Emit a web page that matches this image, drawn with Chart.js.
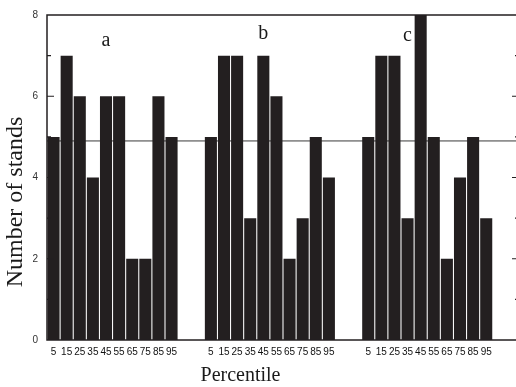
<!DOCTYPE html>
<html>
<head>
<meta charset="utf-8">
<script src="https://cdn.jsdelivr.net/npm/chart.js"></script>
<style>
    html, body { margin: 0; padding: 0; background: #ffffff; overflow: hidden; }
    .chart_box { position: absolute; left: 0; top: 0; width: 524px; height: 387px; }
</style>
</head>
<body>
<div class="chart_box">
    <canvas id="stands_chart" width="524" height="387"></canvas>
</div>
<script>
//percentile classes and stand counts for the three panels
const percentiles = ['5', '15', '25', '35', '45', '55', '65', '75', '85', '95'];
const standsA = [5, 7, 6, 4, 6, 6, 2, 2, 6, 5];
const standsB = [5, 7, 7, 3, 7, 6, 2, 3, 5, 4];
const standsC = [5, 7, 7, 3, 8, 5, 2, 4, 5, 3];
const panelLetters = ['a', 'b', 'c'];
const yTickLabels = [0, 2, 4, 6, 8];
const referenceLevel = 4.9;

//where each panel letter sits (category index, y value)
const letterSpots = [
    { index: 4, value: 7.24 },
    { index: 16, value: 7.41 },
    { index: 27, value: 7.37 }
];

//build the category axis: each panel followed by two empty slots
const gapSlots = 2;
const labels = [];
const counts = [];
[standsA, standsB, standsC].forEach(panel => {
    percentiles.forEach((p, i) => {
        labels.push(p);
        counts.push(panel[i]);
    });
    for (let g = 0; g < gapSlots; g++) {
        labels.push('');
        counts.push(null);
    }
});

const ink = '#231f20';

//reference line behind the bars
const referenceLine = {
    id: 'referenceLine',
    beforeDatasetsDraw(chart) {
        const { ctx, chartArea, scales } = chart;
        const y = scales.y.getPixelForValue(referenceLevel);
        ctx.save();
        ctx.strokeStyle = '#3a3a3a';
        ctx.lineWidth = 1;
        ctx.beginPath();
        ctx.moveTo(chartArea.left, y);
        ctx.lineTo(chartArea.right, y);
        ctx.stroke();
        ctx.restore();
    }
};

//box frame, inward ticks, panel letters and axis titles
const frameAndText = {
    id: 'frameAndText',
    afterDraw(chart) {
        const { ctx, chartArea, scales } = chart;
        const { left, right, top, bottom } = chartArea;
        ctx.save();

        ctx.strokeStyle = ink;
        ctx.lineWidth = 1.5;
        ctx.strokeRect(left, top, right - left, bottom - top);

        ctx.lineWidth = 1.2;
        for (let v = 1; v < 8; v++) {
            const y = scales.y.getPixelForValue(v);
            const len = v % 2 === 0 ? 7 : 4;
            ctx.beginPath();
            ctx.moveTo(left, y);
            ctx.lineTo(left + len, y);
            ctx.moveTo(right, y);
            ctx.lineTo(right - len, y);
            ctx.stroke();
        }

        ctx.fillStyle = '#1a1a1a';
        ctx.font = '20px "Liberation Serif"';
        ctx.textAlign = 'center';
        ctx.textBaseline = 'alphabetic';
        letterSpots.forEach((spot, i) => {
            const x = scales.x.getPixelForValue(spot.index);
            const y = scales.y.getPixelForValue(spot.value);
            ctx.fillText(panelLetters[i], x, y);
        });

        ctx.fillText('Percentile', 240.5, 381);

        ctx.font = '24px "Liberation Serif"';
        ctx.translate(22, 202);
        ctx.rotate(-Math.PI / 2);
        ctx.fillText('Number of stands', 0, 0);

        ctx.restore();
    }
};

const standsChart = new Chart(document.getElementById('stands_chart'), {
    type: 'bar',
    data: {
        labels: labels,
        datasets: [{
            data: counts,
            backgroundColor: ink,
            borderWidth: 0,
            barPercentage: 0.92,
            categoryPercentage: 1
        }]
    },
    options: {
        responsive: false,
        animation: false,
        devicePixelRatio: 1,
        layout: {
            padding: { top: 12, right: 5, left: 0, bottom: 0 }
        },
        plugins: {
            legend: { display: false },
            tooltip: { enabled: false }
        },
        scales: {
            x: {
                grid: { display: false, drawTicks: false },
                border: { display: false },
                ticks: {
                    autoSkip: false,
                    maxRotation: 0,
                    minRotation: 0,
                    padding: 6,
                    color: '#111111',
                    font: { family: '"Liberation Sans"', size: 10 }
                },
                afterFit: (scale) => { scale.height = 47; }
            },
            y: {
                min: 0,
                max: 8,
                grid: { display: false, drawTicks: false },
                border: { display: false },
                ticks: {
                    stepSize: 1,
                    padding: 9,
                    color: '#333333',
                    font: { family: '"Liberation Sans"', size: 10 },
                    callback: (value) => yTickLabels.includes(value) ? value : ''
                },
                afterFit: (scale) => { scale.width = 47; }
            }
        }
    },
    plugins: [referenceLine, frameAndText]
});
</script>
</body>
</html>
